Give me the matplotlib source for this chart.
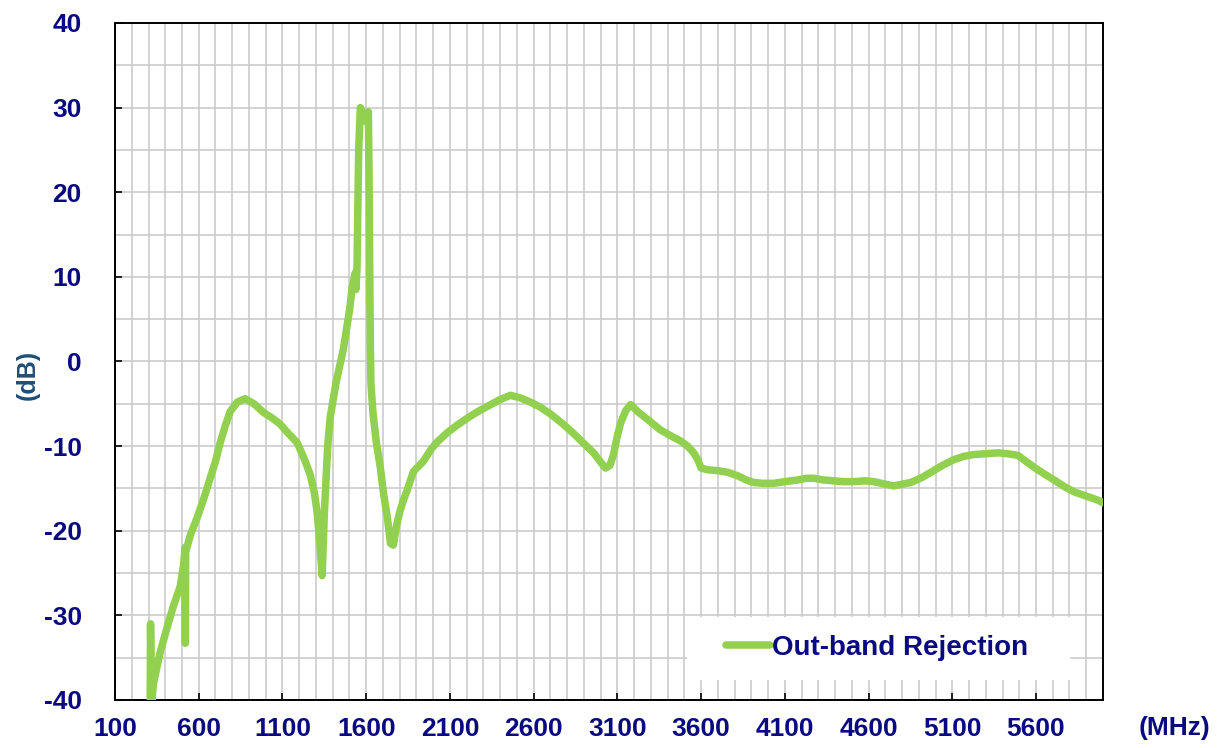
import matplotlib

matplotlib.use("Agg")
import matplotlib.pyplot as plt
from matplotlib.patches import Rectangle
from matplotlib.ticker import MultipleLocator

# values (MHz, dB)
freq_mhz = [
    310, 312, 318, 330, 369, 410, 447, 489, 510, 518, 520, 522, 550, 590, 630,
    668, 700, 728, 760, 788, 830, 877, 930, 985, 1040, 1086, 1130, 1188, 1230,
    1266, 1290, 1307, 1325, 1337, 1350, 1370, 1385, 1420, 1463, 1500, 1517,
    1535, 1538, 1545, 1555, 1565, 1585, 1600, 1613, 1618, 1622, 1625, 1628,
    1640, 1660, 1684, 1705, 1726, 1745, 1762, 1780, 1800, 1822, 1845, 1882,
    1941, 1990, 2025, 2085, 2145, 2204, 2260, 2324, 2400, 2461, 2520, 2581,
    2640, 2700, 2770, 2838, 2900, 2958, 3000, 3029, 3055, 3077, 3100, 3119,
    3150, 3179, 3226, 3290, 3358, 3430, 3478, 3519, 3556, 3580, 3600, 3640,
    3699, 3760, 3818, 3870, 3914, 3970, 4033, 4100, 4177, 4230, 4273, 4330,
    4392, 4450, 4512, 4580, 4631, 4700, 4751, 4800, 4852, 4910, 4972, 5040,
    5109, 5170, 5229, 5300, 5373, 5430, 5492, 5540, 5588, 5650, 5708, 5770,
    5827, 5900, 5971, 6000,
]
rejection_db = [
    -40.5, -31.0, -40.5, -38.0, -34.4, -31.5, -29.0, -26.6, -24.0, -22.0, -33.3,
    -22.5, -20.5, -18.5, -16.2, -13.8, -11.8, -9.6, -7.5, -5.9, -4.8, -4.4,
    -5.0, -6.0, -6.7, -7.4, -8.4, -9.6, -11.5, -13.4, -15.5, -17.8, -22.0,
    -25.3, -18.0, -10.0, -6.6, -2.5, 1.4, 6.0, 8.8, 10.5, 8.5, 11.0, 25.0,
    30.0, 29.0, 28.3, 29.5, 20.0, 8.0, 1.8, -2.5, -6.0, -9.5, -12.5, -15.8,
    -18.4, -21.5, -21.7, -19.5, -17.8, -16.4, -15.2, -13.0, -11.8, -10.3, -9.5,
    -8.4, -7.5, -6.7, -6.0, -5.3, -4.5, -4.0, -4.3, -4.8, -5.4, -6.2, -7.3,
    -8.5, -9.7, -10.8, -11.9, -12.6, -12.3, -11.0, -8.8, -7.3, -5.8, -5.1,
    -6.0, -7.0, -8.1, -8.9, -9.4, -10.0, -10.8, -11.6, -12.6, -12.8, -12.9,
    -13.1, -13.5, -14.0, -14.3, -14.4, -14.4, -14.2, -14.0, -13.8, -13.8,
    -14.0, -14.1, -14.2, -14.2, -14.1, -14.2, -14.5, -14.7, -14.5, -14.3,
    -13.8, -13.1, -12.3, -11.6, -11.2, -11.0, -10.9, -10.8, -10.9, -11.1,
    -11.8, -12.5, -13.3, -14.0, -14.8, -15.4, -15.9, -16.4, -16.7,
]
x_ticks = [100, 600, 1100, 1600, 2100, 2600, 3100, 3600, 4100, 4600, 5100, 5600]
y_ticks = [-40, -30, -20, -10, 0, 10, 20, 30, 40]
series_label = "Out-band Rejection"

GREEN = "#92d050"
NAVY = "#0a0a80"

plt.rcParams["font.family"] = ["Liberation Sans", "DejaVu Sans"]
plt.rcParams["font.weight"] = "bold"
plt.rcParams["axes.unicode_minus"] = False

fig = plt.figure(figsize=(12.25, 7.48), dpi=100)
ax = fig.add_axes([0.0939, 0.0642, 0.8065, 0.9051])

ax.plot(freq_mhz, rejection_db, color=GREEN, lw=5.4,
        solid_capstyle="round", solid_joinstyle="round", label=series_label, zorder=3)

ax.set_xlim(100, 6000)
ax.set_ylim(-40, 40)
ax.set_xticks(x_ticks)
ax.set_yticks(y_ticks)
ax.xaxis.set_minor_locator(MultipleLocator(100))
ax.yaxis.set_minor_locator(MultipleLocator(5))
ax.grid(which="both", color="#c8c8c8", lw=1.1, zorder=0)
ax.set_axisbelow(True)

ax.tick_params(which="major", direction="in", length=5, width=1.2, color="black",
               labelsize=19, labelcolor=NAVY)
ax.tick_params(which="minor", length=0)
ax.tick_params(axis="y", pad=24)
ax.tick_params(axis="x", pad=12)
for lbl in ax.get_xticklabels() + ax.get_yticklabels():
    lbl.set_fontweight("bold")
for sp in ax.spines.values():
    sp.set_color("black")
    sp.set_linewidth(1.4)

# white patch behind the legend, as in the reference
ax.add_patch(Rectangle((0.579, 0.03), 0.388, 0.093, transform=ax.transAxes,
                       facecolor="white", edgecolor="none", zorder=2))
leg = ax.legend(loc="center left", bbox_to_anchor=(0.607, 0.0765), frameon=False,
                handlelength=1.6, handletextpad=0.05, borderaxespad=0,
                prop={"size": 20, "weight": "bold"})
for t in leg.get_texts():
    t.set_color(NAVY)
leg.set_zorder(4)

fig.text(0.959, 0.027, "(MHz)", color=NAVY, fontsize=19, fontweight="bold",
         ha="center", va="center")
fig.text(0.023, 0.499, "(dB)", color="#1f4e79", fontsize=18, fontweight="bold",
         rotation=90, ha="center", va="center")

fig.savefig("out.png", dpi=100)
